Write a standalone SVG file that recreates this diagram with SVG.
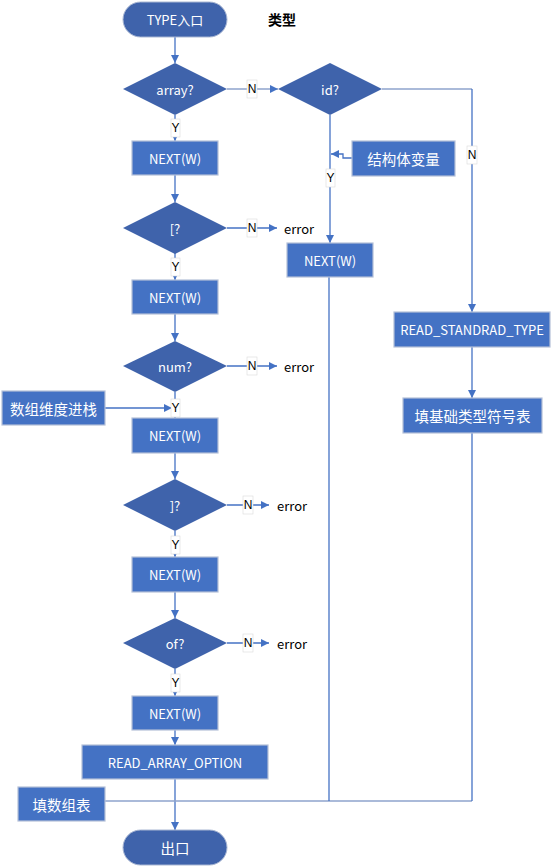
<svg xmlns="http://www.w3.org/2000/svg" width="553" height="868" viewBox="0 0 553 868">
<style>
.term{fill:#3F63AB;stroke:#A9B7D3;stroke-width:1}
.dia{fill:#3F63AB}
.box{fill:#4472C4;stroke:#B4C0D8;stroke-width:1.2}
.t{font-family:"Noto Sans CJK SC","Liberation Sans",sans-serif;font-size:13px;fill:#FFFFFF;text-anchor:middle;dominant-baseline:central}
.c{font-size:14.5px}
.k{font-family:"Noto Sans CJK SC","Liberation Sans",sans-serif;font-size:13px;fill:#000000;dominant-baseline:central}
.ln{fill:none;stroke:#4472C4;stroke-width:1.3}
.lg{fill:none;stroke:#8EA3CC;stroke-width:1.5}
.lb{fill:#FFFFFF;stroke:#D9D9D9;stroke-width:0.6}
.lt{font-family:"Liberation Sans",sans-serif;font-size:12px;fill:#000000;text-anchor:middle;dominant-baseline:central}
</style>
<defs>
<marker id="arr" viewBox="0 0 10 10" refX="10" refY="5" markerWidth="9" markerHeight="8" markerUnits="userSpaceOnUse" orient="auto">
<path d="M0,0 L10,5 L0,10 z" fill="#4472C4"/>
</marker>
</defs>
<rect width="553" height="868" fill="#FFFFFF"/>
<g id="connectors">
<path class="ln" d="M175,37 V63" marker-end="url(#arr)"/>
<path class="ln" d="M175,115 V141" marker-end="url(#arr)"/>
<path class="lg" d="M227,89 H278" marker-end="url(#arr)"/>
<path class="ln" d="M175,175 V202" marker-end="url(#arr)"/>
<path class="ln" d="M227,228 H277" marker-end="url(#arr)"/>
<path class="ln" d="M175,253 V280" marker-end="url(#arr)"/>
<path class="ln" d="M175,314 V341" marker-end="url(#arr)"/>
<path class="ln" d="M227,366 H277" marker-end="url(#arr)"/>
<path class="ln" d="M175,392 V418" marker-end="url(#arr)"/>
<path class="ln" d="M105,408 H172" marker-end="url(#arr)"/>
<path class="ln" d="M175,452 V479" marker-end="url(#arr)"/>
<path class="ln" d="M227,505 H269" marker-end="url(#arr)"/>
<path class="ln" d="M175,531 V557" marker-end="url(#arr)"/>
<path class="ln" d="M175,592 V618" marker-end="url(#arr)"/>
<path class="ln" d="M227,643 H269" marker-end="url(#arr)"/>
<path class="ln" d="M175,669 V696" marker-end="url(#arr)"/>
<path class="ln" d="M175,730 V745" marker-end="url(#arr)"/>
<path class="ln" d="M175,779 V830" marker-end="url(#arr)"/>
<path class="lg" d="M105,801 H472"/>
<path class="ln" d="M329,277 V801"/>
<path class="ln" d="M472,433 V801"/>
<path class="ln" d="M330,115 V243" marker-end="url(#arr)"/>
<path class="ln" d="M352,158 H343 V154 H331" marker-end="url(#arr)"/>
<path class="lg" d="M382,89 H472"/>
<path class="ln" d="M472,89 V312" marker-end="url(#arr)"/>
<path class="ln" d="M472,347 V398" marker-end="url(#arr)"/>
<rect class="lb" x="171" y="119" width="9" height="18"/><text class="lt" x="175.5" y="128">Y</text>
<rect class="lb" x="247" y="80" width="10" height="18"/><text class="lt" x="252" y="89">N</text>
<rect class="lb" x="247" y="219" width="10" height="18"/><text class="lt" x="252" y="228">N</text>
<rect class="lb" x="171" y="258" width="9" height="18"/><text class="lt" x="175.5" y="267">Y</text>
<rect class="lb" x="247" y="357" width="10" height="18"/><text class="lt" x="252" y="366">N</text>
<rect class="lb" x="171" y="399" width="9" height="18"/><text class="lt" x="175.5" y="408">Y</text>
<rect class="lb" x="243" y="496" width="10" height="18"/><text class="lt" x="248" y="505">N</text>
<rect class="lb" x="171" y="536" width="9" height="18"/><text class="lt" x="175.5" y="545">Y</text>
<rect class="lb" x="243" y="634" width="10" height="18"/><text class="lt" x="248" y="643">N</text>
<rect class="lb" x="171" y="674" width="9" height="18"/><text class="lt" x="175.5" y="683">Y</text>
<rect class="lb" x="326" y="169" width="9" height="18"/><text class="lt" x="330.5" y="178">Y</text>
<rect class="lb" x="467" y="146" width="10" height="18"/><text class="lt" x="472" y="155">N</text>
</g>
<g id="title"><text class="k" x="268" y="19" style="font-size:14px;font-weight:bold">类型</text></g>
<g id="start"><rect class="term" x="123" y="2" width="104" height="35" rx="17.5"/><text class="t" x="175" y="19.5">TYPE入口</text></g>
<g id="d_array"><polygon class="dia" points="175,63 227,89 175,115 123,89"/><text class="t" x="175" y="89">array?</text></g>
<g id="n1"><rect class="box" x="132" y="141" width="86" height="34"/><text class="t" x="175" y="158">NEXT(W)</text></g>
<g id="d_lb"><polygon class="dia" points="175,202 227,228 175,254 123,228"/><text class="t" x="175" y="228">[?</text></g>
<g id="e1"><text class="k" x="284" y="228">error</text></g>
<g id="n2"><rect class="box" x="132" y="280" width="86" height="34"/><text class="t" x="175" y="297">NEXT(W)</text></g>
<g id="d_num"><polygon class="dia" points="175,341 227,366 175,392 123,366"/><text class="t" x="175" y="366">num?</text></g>
<g id="e2"><text class="k" x="284" y="366">error</text></g>
<g id="push"><rect class="box" x="2" y="391" width="103" height="34"/><text class="t c" x="53.5" y="408">数组维度进栈</text></g>
<g id="n3"><rect class="box" x="132" y="418" width="86" height="35"/><text class="t" x="175" y="435.5">NEXT(W)</text></g>
<g id="d_rb"><polygon class="dia" points="175,479 227,505 175,531 123,505"/><text class="t" x="175" y="505">]?</text></g>
<g id="e3"><text class="k" x="277" y="505">error</text></g>
<g id="n4"><rect class="box" x="132" y="557" width="86" height="35"/><text class="t" x="175" y="574.5">NEXT(W)</text></g>
<g id="d_of"><polygon class="dia" points="175,618 227,643 175,669 123,643"/><text class="t" x="175" y="643">of?</text></g>
<g id="e4"><text class="k" x="277" y="643">error</text></g>
<g id="n5"><rect class="box" x="132" y="696" width="86" height="34"/><text class="t" x="175" y="713">NEXT(W)</text></g>
<g id="rao"><rect class="box" x="82" y="745" width="186" height="34"/><text class="t" x="175" y="762">READ_ARRAY_OPTION</text></g>
<g id="fill_arr"><rect class="box" x="18" y="787" width="87" height="34"/><text class="t c" x="61.5" y="804">填数组表</text></g>
<g id="end"><rect class="term" x="123" y="830" width="104" height="35" rx="17.5"/><text class="t c" x="175" y="847.5">出口</text></g>
<g id="d_id"><polygon class="dia" points="330,63 382,89 330,115 278,89"/><text class="t" x="330" y="89">id?</text></g>
<g id="struct"><rect class="box" x="352" y="141" width="103" height="35"/><text class="t c" x="403.5" y="158.5">结构体变量</text></g>
<g id="n6"><rect class="box" x="287" y="243" width="86" height="34"/><text class="t" x="330" y="260">NEXT(W)</text></g>
<g id="rst"><rect class="box" x="394" y="312" width="156" height="35"/><text class="t" x="472" y="329.5">READ_STANDRAD_TYPE</text></g>
<g id="fill_basic"><rect class="box" x="403" y="398" width="139" height="35"/><text class="t c" x="472.5" y="415.5">填基础类型符号表</text></g>
</svg>
